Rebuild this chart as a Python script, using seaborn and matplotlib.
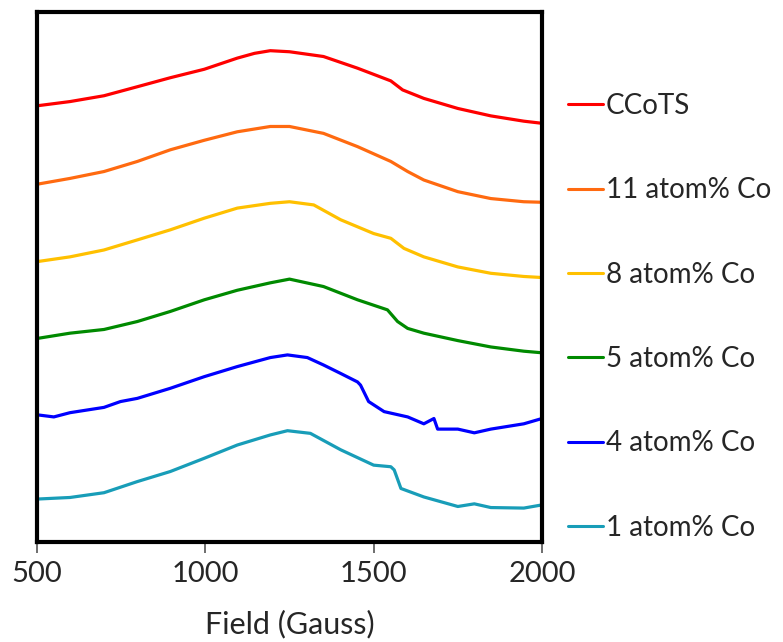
import numpy as np
import pandas as pd
import matplotlib
matplotlib.use("Agg")
import matplotlib.pyplot as plt
import seaborn as sns

# ---- data (Field in Gauss, intensity in arbitrary offset units) ----
ccots_x = [500, 598, 699, 798, 896, 997, 1095, 1146, 1193, 1250, 1351, 1452, 1551, 1586, 1649, 1750, 1848, 1946, 2000]
ccots_y = [82.3, 83.1, 84.2, 85.9, 87.6, 89.2, 91.3, 92.2, 92.7, 92.5, 91.6, 89.4, 87.0, 85.3, 83.7, 81.8, 80.4, 79.4, 79.0]

co11_x = [500, 598, 699, 798, 896, 997, 1095, 1193, 1250, 1351, 1452, 1551, 1601, 1649, 1750, 1848, 1946, 2000]
co11_y = [67.5, 68.6, 69.9, 71.8, 74.0, 75.8, 77.4, 78.4, 78.4, 77.1, 74.6, 71.8, 69.9, 68.3, 66.1, 64.8, 64.2, 64.1]

co8_x = [500, 598, 699, 798, 896, 997, 1095, 1193, 1250, 1322, 1402, 1500, 1551, 1590, 1649, 1750, 1848, 1946, 2000]
co8_y = [52.9, 53.8, 55.1, 57.0, 58.9, 61.1, 63.0, 63.9, 64.2, 63.6, 60.8, 58.2, 57.3, 55.4, 53.8, 51.9, 50.7, 50.1, 49.9]

co5_x = [500, 598, 699, 798, 896, 997, 1095, 1193, 1250, 1351, 1452, 1541, 1571, 1601, 1649, 1750, 1848, 1946, 2000]
co5_y = [38.4, 39.4, 40.1, 41.6, 43.5, 45.7, 47.5, 48.9, 49.6, 48.2, 45.7, 43.8, 41.6, 40.3, 39.4, 38.0, 36.8, 36.0, 35.7]

co4_x = [500, 550, 598, 699, 748, 798, 896, 997, 1095, 1193, 1244, 1303, 1351, 1402, 1452, 1461, 1485, 1531,
         1601, 1649, 1679, 1690, 1750, 1799, 1848, 1946, 2000]
co4_y = [24.0, 23.6, 24.4, 25.4, 26.5, 27.1, 29.0, 31.2, 33.1, 34.8, 35.3, 34.8, 33.4, 31.8, 30.2, 29.6, 26.5, 24.6,
         23.6, 22.3, 23.3, 21.3, 21.3, 20.6, 21.3, 22.3, 23.3]

co1_x = [500, 598, 699, 798, 896, 997, 1095, 1193, 1244, 1312, 1402, 1500, 1551, 1561, 1581, 1649, 1750, 1799,
         1848, 1946, 2000]
co1_y = [8.1, 8.4, 9.3, 11.4, 13.3, 15.8, 18.3, 20.2, 21.0, 20.5, 17.4, 14.5, 14.2, 13.6, 10.1, 8.5, 6.7, 7.2,
         6.5, 6.4, 7.0]

labels = ["CCoTS", "11 atom% Co", "8 atom% Co", "5 atom% Co", "4 atom% Co", "1 atom% Co"]
colors = ["#FF0000", "#FF6A10", "#FFC000", "#008A00", "#0000FF", "#189DB8"]
xticks = [500, 1000, 1500, 2000]

series_x = [ccots_x, co11_x, co8_x, co5_x, co4_x, co1_x]
series_y = [ccots_y, co11_y, co8_y, co5_y, co4_y, co1_y]
frames = [pd.DataFrame({"Field": xs, "Intensity": ys, "Sample": lab})
          for xs, ys, lab in zip(series_x, series_y, labels)]
df = pd.concat(frames, ignore_index=True)

sns.set_theme(style="white")
plt.rcParams["font.family"] = ["Lato", "DejaVu Sans"]

fig = plt.figure(figsize=(7.83, 6.42), dpi=100)
ax = fig.add_axes([37 / 783, 1 - 542 / 642, (542 - 37) / 783, (542 - 12) / 642])

sns.lineplot(data=df, x="Field", y="Intensity", hue="Sample", hue_order=labels,
             palette=dict(zip(labels, colors)), linewidth=2.3, sort=False,
             estimator=None, ax=ax)

ax.set_xlim(500, 2000)
ax.set_ylim(0, 100)
ax.set_xticks(xticks)
ax.set_xticklabels([str(t) for t in xticks])
ax.set_yticks([])
ax.set_ylabel("")
ax.set_xlabel("Field (Gauss)", fontsize=22, labelpad=16)
ax.tick_params(axis="x", direction="out", length=8, width=1.2, color="#555555",
               labelsize=21, pad=6, bottom=True)
for s in ax.spines.values():
    s.set_color("black")
    s.set_linewidth(3)
    s.set_visible(True)

sns.move_legend(ax, loc="upper left", bbox_to_anchor=(1.03, 0.868), frameon=False,
                title=None, fontsize=20, labelspacing=2.1, handlelength=1.25,
                handletextpad=0.1, borderaxespad=0)
for line in ax.get_legend().get_lines():
    line.set_linewidth(2.2)

fig.savefig("out.png", dpi=100)
